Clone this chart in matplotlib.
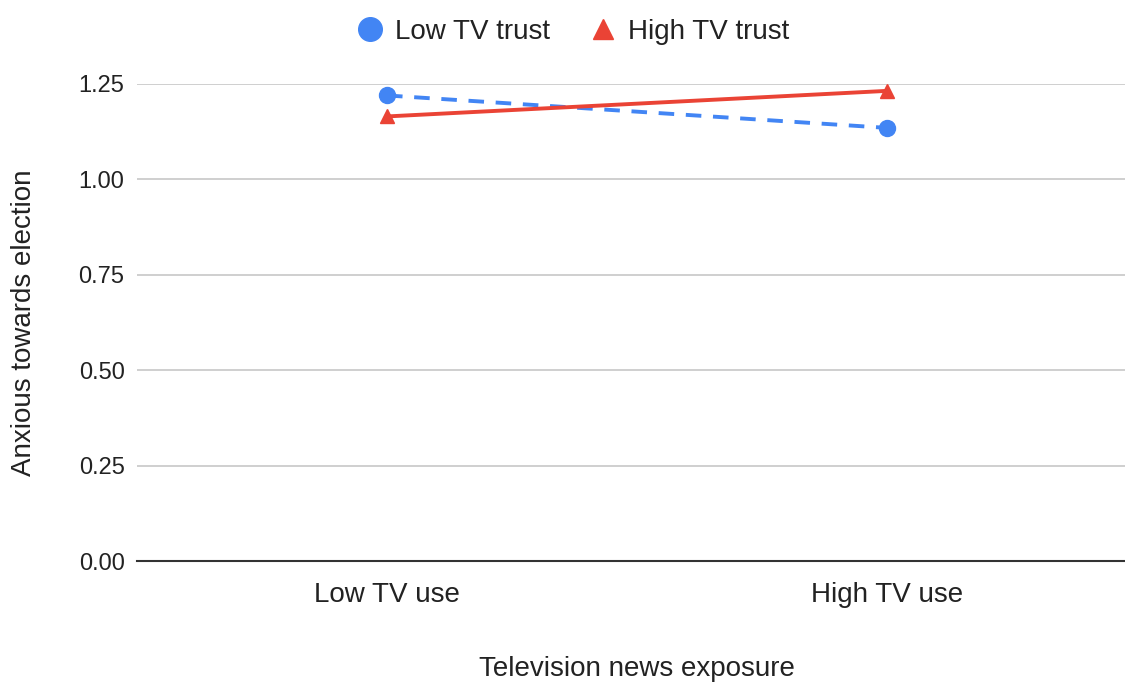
import matplotlib.pyplot as plt
from matplotlib.lines import Line2D

plt.rcParams['font.family'] = ['Liberation Sans', 'DejaVu Sans']

# data
categories = ["Low TV use", "High TV use"]
low_trust = [1.22, 1.135]
high_trust = [1.165, 1.232]
y_ticks = [0.0, 0.25, 0.5, 0.75, 1.0, 1.25]

BLUE = "#4285F4"
RED = "#EA4335"

fig = plt.figure(figsize=(11.25, 6.82), dpi=100)
ax = fig.add_axes((137 / 1125, 1 - 561 / 682, 1000 / 1125, 477 / 682))

xs = list(range(len(categories)))
ax.plot(xs, low_trust, color=BLUE, lw=2.8, ls=(0, (4, 3)), marker="o", ms=11.5,
        label="Low TV trust", zorder=3)
ax.plot(xs, high_trust, color=RED, lw=2.8, marker="^", ms=10.5,
        label="High TV trust", zorder=3)

ax.set_xlim(-0.5, 1.5)
ax.set_ylim(0, 1.25)
ax.set_yticks(y_ticks)
ax.set_yticklabels([f"{v:.2f}" for v in y_ticks])
ax.set_xticks(xs)
ax.set_xticklabels(categories)
ax.tick_params(axis="y", length=0, pad=9, labelsize=17, labelcolor="#222222")
ax.tick_params(axis="x", length=0, pad=15, labelsize=20, labelcolor="#222222")

ax.grid(axis="y", color="#cccccc", lw=1.3)
ax.set_axisbelow(True)
for side in ["top", "right", "left"]:
    ax.spines[side].set_visible(False)
ax.spines["bottom"].set_color("#333333")
ax.spines["bottom"].set_linewidth(1.5)

ax.set_xlabel("Television news exposure", fontsize=20, color="#222222", labelpad=35)
ax.set_ylabel("Anxious towards election", fontsize=20, color="#222222", labelpad=30)

handles = [
    Line2D([], [], color=BLUE, marker="o", ls="none", ms=17),
    Line2D([], [], color=RED, marker="^", ls="none", ms=15),
]
fig.legend(handles, ["Low TV trust", "High TV trust"], loc="center",
           bbox_to_anchor=(0.508, 1 - 32 / 682), ncol=2, frameon=False,
           fontsize=20, handletextpad=0.3, columnspacing=1.3, handlelength=1.2,
           labelcolor="#222222")

fig.savefig("out.png", dpi=100)
